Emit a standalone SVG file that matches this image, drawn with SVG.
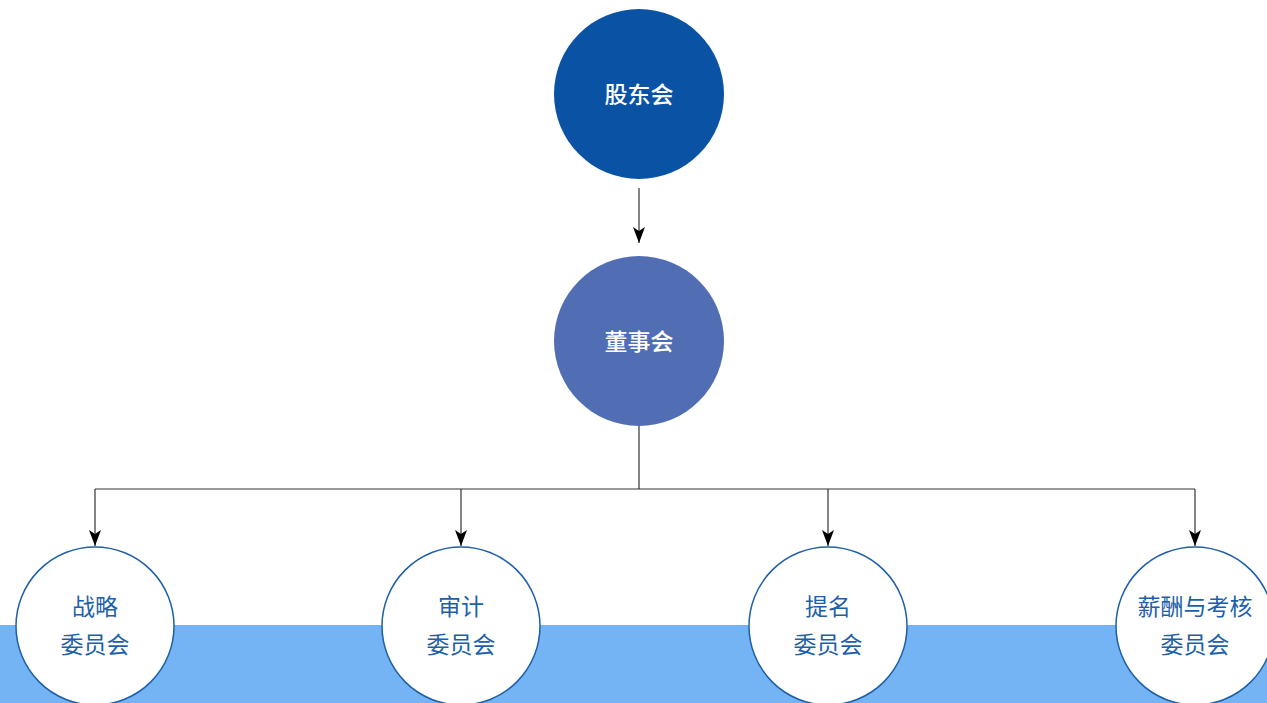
<svg xmlns="http://www.w3.org/2000/svg" width="1267" height="703" viewBox="0 0 1267 703">
<style>
.t{font-family:"Noto Sans CJK SC","Noto Sans",sans-serif;font-size:23px;text-anchor:middle;dominant-baseline:central}
.w{fill:#ffffff;font-weight:500}
.b{fill:#1d5fa8}
.c{fill:#ffffff;stroke:#1d5fa8;stroke-width:1.5}
.ln{fill:none;stroke:#333;stroke-width:1.2}
</style>
<defs>
<marker id="ah" markerWidth="16" markerHeight="12" refX="16" refY="6" orient="auto" markerUnits="userSpaceOnUse" viewBox="0 0 16 12">
<path d="M0,0 L16,6 L0,12 L4,6 Z" fill="#000"/>
</marker>
</defs>
<rect x="0" y="0" width="1267" height="703" fill="#ffffff"/>
<rect x="0" y="625" width="1267" height="78" fill="#74b3f4"/>
<g id="connectors">
<line class="ln" x1="639" y1="188" x2="639" y2="243" marker-end="url(#ah)"/>
<polyline class="ln" points="639,425 639,489"/>
<polyline class="ln" points="95,489 1195,489"/>
<line class="ln" x1="95" y1="489" x2="95" y2="546" marker-end="url(#ah)"/>
<line class="ln" x1="461" y1="489" x2="461" y2="546" marker-end="url(#ah)"/>
<line class="ln" x1="828" y1="489" x2="828" y2="546" marker-end="url(#ah)"/>
<line class="ln" x1="1195" y1="489" x2="1195" y2="546" marker-end="url(#ah)"/>
</g>
<g id="n1"><circle cx="639" cy="94" r="85" fill="#0a53a4"/><text class="t w" x="639" y="93">股东会</text></g>
<g id="n2"><circle cx="639" cy="341" r="85" fill="#516eb4"/><text class="t w" x="639" y="340">董事会</text></g>
<g id="n3"><circle class="c" cx="95" cy="626" r="79"/><text class="t b" x="95" y="605">战略</text><text class="t b" x="95" y="643">委员会</text></g>
<g id="n4"><circle class="c" cx="461" cy="626" r="79"/><text class="t b" x="461" y="605">审计</text><text class="t b" x="461" y="643">委员会</text></g>
<g id="n5"><circle class="c" cx="828" cy="626" r="79"/><text class="t b" x="828" y="605">提名</text><text class="t b" x="828" y="643">委员会</text></g>
<g id="n6"><circle class="c" cx="1195" cy="626" r="79"/><text class="t b" x="1195" y="605">薪酬与考核</text><text class="t b" x="1195" y="643">委员会</text></g>
</svg>
